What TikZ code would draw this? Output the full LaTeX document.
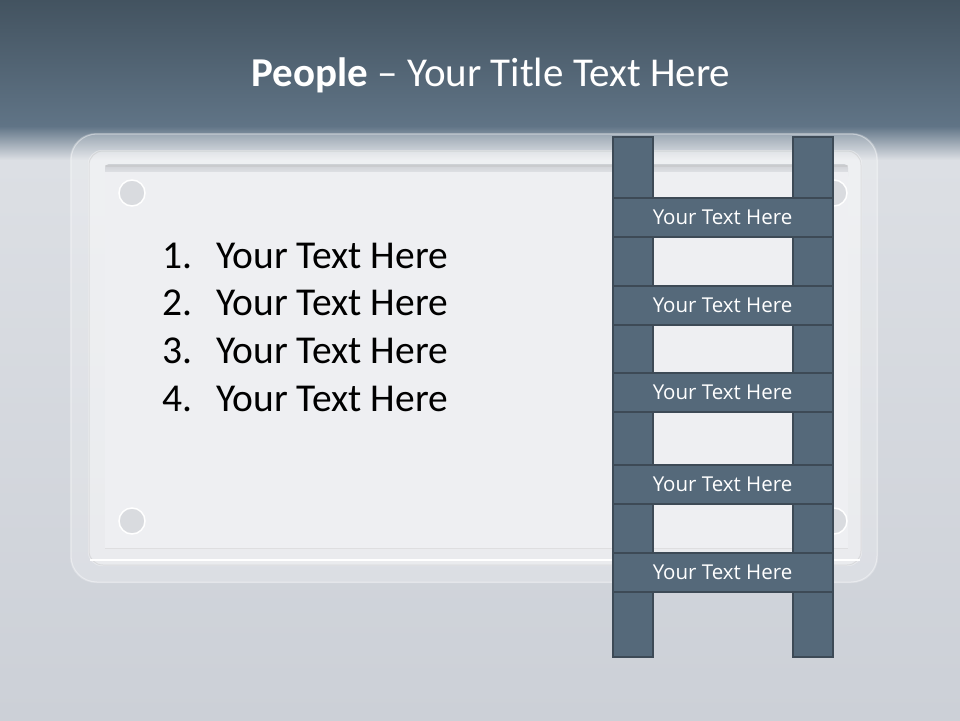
\documentclass[tikz,border=0pt]{standalone}
\usepackage{fontspec}
\setmainfont{Carlito}
\newfontfamily\rungfont{Open Sans}
\usetikzlibrary{calc}
\definecolor{bgtop}{HTML}{435360}
\definecolor{bgmid}{HTML}{607486}
\definecolor{bglight}{HTML}{DCDFE4}
\definecolor{bgbot}{HTML}{CCD0D7}
\definecolor{railfill}{HTML}{55697A}
\definecolor{raildraw}{HTML}{3D4A56}
\definecolor{panel}{HTML}{EEEFF2}
\definecolor{screw}{HTML}{D9DBDF}
\tikzset{
  rail/.style={draw=raildraw, fill=railfill, line width=2pt, minimum width=40pt, inner sep=0pt},
  rung/.style={draw=raildraw, fill=railfill, line width=2pt, minimum width=220pt, minimum height=39pt, inner sep=0pt, text=white, font=\rungfont\fontsize{20.5}{24}\selectfont},
  listitem/.style={anchor=west, font=\fontsize{39.5}{46}\selectfont, text=black, inner sep=0pt},
  screwhole/.style={fill=screw, draw=white, line width=1.5pt}
}
\begin{document}
\begin{tikzpicture}[x=1pt,y=-1pt]
\useasboundingbox (0,0) rectangle (960,720);
% background
\shade[top color=bgtop, bottom color=bgmid] (0,0) rectangle (960,126);
\shade[top color=bgmid, bottom color=bglight] (0,126) rectangle (960,160);
\shade[top color=bglight, bottom color=bgbot] (0,160) rectangle (960,720);
% plate
\fill[white, opacity=0.25, rounded corners=26pt] (70,133) rectangle (878,583);
\draw[white, opacity=0.4, line width=1pt, rounded corners=26pt] (71,134) rectangle (877,582);
\fill[white, opacity=0.40, rounded corners=14pt] (88,150) rectangle (862,566);
\draw[gray!60, opacity=0.3, line width=1pt, rounded corners=14pt] (89,151) rectangle (861,565);
\shade[top color=bglight!85!gray, bottom color=panel, rounded corners=4pt] (105,164) rectangle (848,180);
\fill[panel] (105,172) rectangle (848,548);
\draw[gray!50, opacity=0.4, line width=1.5pt] (105,166) -- (848,166);
\draw[gray!40, opacity=0.4, line width=1pt] (105,548) -- (848,548);
\draw[white, line width=2pt] (90,560) -- (860,560);
% screws
\node[circle, screwhole, minimum size=26pt] (s1) at (132,193) {};
\node[circle, screwhole, minimum size=26pt] (s2) at (132,521) {};
\node[circle, screwhole, minimum size=26pt] (s3) at (834,193) {};
\node[circle, screwhole, minimum size=26pt] (s4) at (834,521) {};
% title
\node[text=white, font=\fontsize{41}{48}\selectfont, inner sep=0pt] (title) at (491,75) {\textbf{People} -- Your Title Text Here};
% list
\node[listitem] (n1) at (162,256) {1.};
\node[listitem] (t1) at (216,256) {Your Text Here};
\node[listitem] (n2) at (162,303) {2.};
\node[listitem] (t2) at (216,303) {Your Text Here};
\node[listitem] (n3) at (162,351) {3.};
\node[listitem] (t3) at (216,351) {Your Text Here};
\node[listitem] (n4) at (162,399) {4.};
\node[listitem] (t4) at (216,399) {Your Text Here};
% ladder
\node[rail, minimum height=520pt] (lrail) at (632.5,396.5) {};
\node[rail, minimum height=520pt] (rrail) at (812.5,396.5) {};
\node[rung] (r1) at (722.5,217) {Your Text Here};
\node[rung] (r2) at (722.5,305) {Your Text Here};
\node[rung] (r3) at (722.5,392) {Your Text Here};
\node[rung] (r4) at (722.5,484) {Your Text Here};
\node[rung] (r5) at (722.5,572.5) {Your Text Here};
\end{tikzpicture}
\end{document}
